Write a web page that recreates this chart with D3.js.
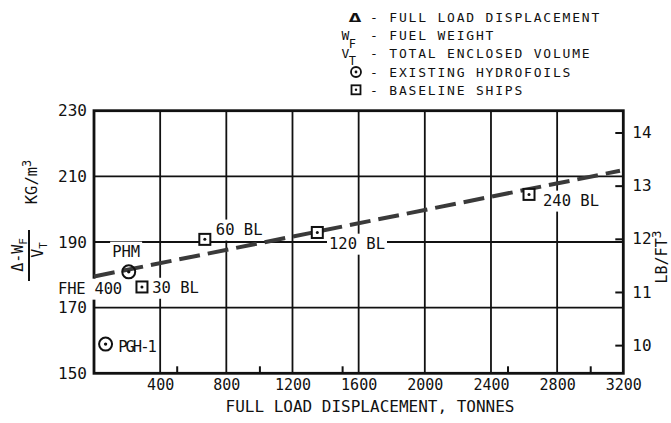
<!DOCTYPE html>
<html><head><meta charset="utf-8">
<script src="https://cdn.jsdelivr.net/npm/d3@7"></script>
<style>
body{margin:0;background:#fff}
svg{display:block}
text{font-family:"DejaVu Sans Mono",monospace;fill:#111}
</style>
</head><body>
<svg id="c" width="671" height="423"></svg>
<script>
// ---- data ----
const xTickValues = [400, 800, 1200, 1600, 2000, 2400, 2800, 3200];
const xMinorTicks = [500, 1000, 1500, 2500, 3000];
const yTickValues = [150, 170, 190, 210, 230];
const yRightTickValues = [10, 11, 12, 13, 14];
const hydrofoilNames = ["PHM", "PGH-1"];
const hydrofoilDisp = [210, 70];
const hydrofoilDensity = [180.9, 158.9];
const baselineNames = ["30 BL", "60 BL", "120 BL", "240 BL"];
const baselineDisp = [290, 670, 1350, 2630];
const baselineDensity = [176.3, 190.8, 192.9, 204.5];
const trendDisp = [0, 3180];
const trendDensity = [179.5, 211.7];
const extraLabel = "FHE 400";
const legendItems = ["- FULL LOAD DISPLACEMENT", "- FUEL WEIGHT", "- TOTAL ENCLOSED VOLUME", "- EXISTING HYDROFOILS", "- BASELINE SHIPS"];
const xTitle = "FULL LOAD DISPLACEMENT, TONNES";

// ---- layout ----
const svg = d3.select("#c");
const x = d3.scaleLinear().domain([0, 3200]).range([94, 623.3]);
const y = d3.scaleLinear().domain([150, 230]).range([373.3, 110.7]);
const yR = d3.scaleLinear().domain([9.47, 14.41]).range([373.3, 110.7]);
const ink = "#111";
const fmt = d3.format("d");

const gGrid = svg.append("g");
gGrid.selectAll("line.v").data(xTickValues.filter(d => d < 3200)).join("line")
  .attr("x1", d => x(d)).attr("x2", d => x(d))
  .attr("y1", y(150)).attr("y2", y(230))
  .attr("stroke", ink).attr("stroke-width", 1.8);
gGrid.selectAll("line.h").data(yTickValues.filter(d => d > 150 && d < 230)).join("line")
  .attr("x1", x(0)).attr("x2", x(3200))
  .attr("y1", d => y(d)).attr("y2", d => y(d))
  .attr("stroke", ink).attr("stroke-width", 1.8);

// frame
svg.append("rect")
  .attr("x", x(0)).attr("y", y(230))
  .attr("width", x(3200) - x(0)).attr("height", y(150) - y(230))
  .attr("fill", "none").attr("stroke", ink).attr("stroke-width", 2.8);

// minor ticks at bottom
const gMinor = svg.append("g").attr("transform", `translate(0,${y(150)})`)
  .call(d3.axisBottom(x).tickValues(xMinorTicks).tickSize(-7).tickFormat(""));
gMinor.select(".domain").remove();
gMinor.selectAll("line").attr("stroke", ink).attr("stroke-width", 2);

// bottom tick labels
const gX = svg.append("g").attr("transform", `translate(0,${y(150)})`)
  .call(d3.axisBottom(x).tickValues(xTickValues).tickFormat(fmt).tickSize(0).tickPadding(6));
gX.select(".domain").remove();
gX.selectAll("text").attr("font-family", "DejaVu Sans Mono").attr("font-size", 15).attr("fill", ink);

// left tick labels
const gY = svg.append("g").attr("transform", `translate(${x(0)},0)`)
  .call(d3.axisLeft(y).tickValues(yTickValues).tickFormat(fmt).tickSize(0).tickPadding(7));
gY.select(".domain").remove();
gY.selectAll("text").attr("font-family", "DejaVu Sans Mono").attr("font-size", 16).attr("fill", ink);

// right axis
const gR = svg.append("g").attr("transform", `translate(${x(3200)},0)`)
  .call(d3.axisRight(yR).tickValues(yRightTickValues).tickFormat(fmt).tickSize(-8).tickPadding(9));
gR.select(".domain").remove();
gR.selectAll("line").attr("stroke", ink).attr("stroke-width", 2);
gR.selectAll("text").attr("font-family", "DejaVu Sans Mono").attr("font-size", 16).attr("fill", ink);

// label background + trend + markers + labels
const gBg = svg.append("g");
const gTrend = svg.append("g");
const gMarks = svg.append("g");
const gLabels = svg.append("g");

const trend = trendDisp.map((d, i) => [d, trendDensity[i]]);
gTrend.append("path")
  .attr("d", d3.line().x(d => x(d[0])).y(d => y(d[1]))(trend))
  .attr("fill", "none").attr("stroke", "#3a3a3a").attr("stroke-width", 4)
  .attr("stroke-dasharray", "21,8");

const hydro = hydrofoilNames.map((n, i) => ({name: n, d: hydrofoilDisp[i], v: hydrofoilDensity[i]}));
const base = baselineNames.map((n, i) => ({name: n, d: baselineDisp[i], v: baselineDensity[i]}));

gMarks.selectAll("circle.o").data(hydro).join("circle")
  .attr("cx", d => x(d.d)).attr("cy", d => y(d.v)).attr("r", 6.5)
  .attr("fill", "none").attr("stroke", ink).attr("stroke-width", 2);
gMarks.selectAll("circle.od").data(hydro).join("circle")
  .attr("cx", d => x(d.d)).attr("cy", d => y(d.v)).attr("r", 1.7).attr("fill", ink);
const sq = 11;
gMarks.selectAll("rect.s").data(base).join("rect")
  .attr("x", d => x(d.d) - sq / 2).attr("y", d => y(d.v) - sq / 2)
  .attr("width", sq).attr("height", sq)
  .attr("fill", "#fff").attr("stroke", ink).attr("stroke-width", 2);
gMarks.selectAll("circle.sd").data(base).join("circle")
  .attr("cx", d => x(d.d)).attr("cy", d => y(d.v)).attr("r", 1.5).attr("fill", ink);

const labelOffset = {
  "PHM": [-16.6, -14.7], "PGH-1": [12.6, 8], "30 BL": [10.3, 6.3],
  "60 BL": [11, -4.3], "120 BL": [11.7, 16.7], "240 BL": [14, 11.7]
};
const labelData = hydro.concat(base).map(p => ({
  text: p.name, x: x(p.d) + labelOffset[p.name][0], y: y(p.v) + labelOffset[p.name][1],
  ls: p.name === "PGH-1" ? -2 : 0
}));
labelData.push({text: extraLabel, x: x(trendDisp[0]) - 36, y: y(trendDensity[0]) + 17.7, ls: -0.2});

labelData.forEach(l => {
  const t = gLabels.append("text")
    .attr("x", l.x).attr("y", l.y)
    .attr("font-size", 15.5).attr("letter-spacing", l.ls)
    .text(l.text);
  const b = t.node().getBBox();
  gBg.append("rect").attr("x", b.x - 2).attr("y", b.y - 1.5)
    .attr("width", b.width + 4).attr("height", b.height + 3).attr("fill", "#fff");
});

// x title
svg.append("text").attr("x", 370).attr("y", 412).attr("text-anchor", "middle")
  .attr("font-size", 16).text(xTitle);

// left y title: fraction and unit
const gU = svg.append("g").attr("transform", "translate(37,182) rotate(-90)");
const tu = gU.append("text").attr("text-anchor", "middle").attr("font-size", 15.5);
tu.append("tspan").text("KG/m");
tu.append("tspan").attr("dy", -6).attr("font-size", 12).text("3");

const gN = svg.append("g").attr("transform", "translate(23,255) rotate(-90)");
const tn = gN.append("text").attr("text-anchor", "middle").attr("font-size", 15);
tn.append("tspan").text("Δ-W");
tn.append("tspan").attr("dy", 4).attr("font-size", 11).text("F");
svg.append("line").attr("x1", 29).attr("x2", 29).attr("y1", 230).attr("y2", 281)
  .attr("stroke", ink).attr("stroke-width", 2);
const gD = svg.append("g").attr("transform", "translate(43,250) rotate(-90)");
const td = gD.append("text").attr("text-anchor", "middle").attr("font-size", 15);
td.append("tspan").text("V");
td.append("tspan").attr("dy", 4).attr("font-size", 11).text("T");

// right y title
const gRT = svg.append("g").attr("transform", "translate(667,257) rotate(-90)");
const trt = gRT.append("text").attr("text-anchor", "middle").attr("font-size", 15);
trt.append("tspan").text("LB/FT");
trt.append("tspan").attr("dy", -6).attr("font-size", 13).text("3");

// legend
const ly0 = 21.6, lstep = 18.3;
svg.append("g").selectAll("text").data(legendItems).join("text")
  .attr("x", 370).attr("y", (d, i) => ly0 + i * lstep)
  .attr("font-size", 13).attr("letter-spacing", 1.8)
  .text(d => d);
svg.append("text").attr("x", 348.5).attr("y", ly0)
  .attr("font-family", "DejaVu Sans").attr("font-weight", "bold").attr("font-size", 13)
  .attr("textLength", 13).attr("lengthAdjust", "spacingAndGlyphs").text("Δ");
const tw = svg.append("text").attr("x", 341.5).attr("y", ly0 + lstep).attr("font-size", 13);
tw.append("tspan").text("W");
tw.append("tspan").attr("dy", 8).attr("dx", -0.5).attr("font-size", 12).text("F");
const tv = svg.append("text").attr("x", 341.5).attr("y", ly0 + 2 * lstep).attr("font-size", 13);
tv.append("tspan").text("V");
tv.append("tspan").attr("dy", 7).attr("dx", -0.5).attr("font-size", 12).text("T");
svg.append("circle").attr("cx", 356).attr("cy", ly0 + 3 * lstep - 4.5).attr("r", 5)
  .attr("fill", "none").attr("stroke", ink).attr("stroke-width", 1.8);
svg.append("circle").attr("cx", 356).attr("cy", ly0 + 3 * lstep - 4.5).attr("r", 1.4).attr("fill", ink);
svg.append("rect").attr("x", 351.5).attr("y", ly0 + 4 * lstep - 9.5).attr("width", 9).attr("height", 9)
  .attr("fill", "none").attr("stroke", ink).attr("stroke-width", 1.8);
svg.append("circle").attr("cx", 356).attr("cy", ly0 + 4 * lstep - 5).attr("r", 1.2).attr("fill", ink);
</script>
</body></html>
